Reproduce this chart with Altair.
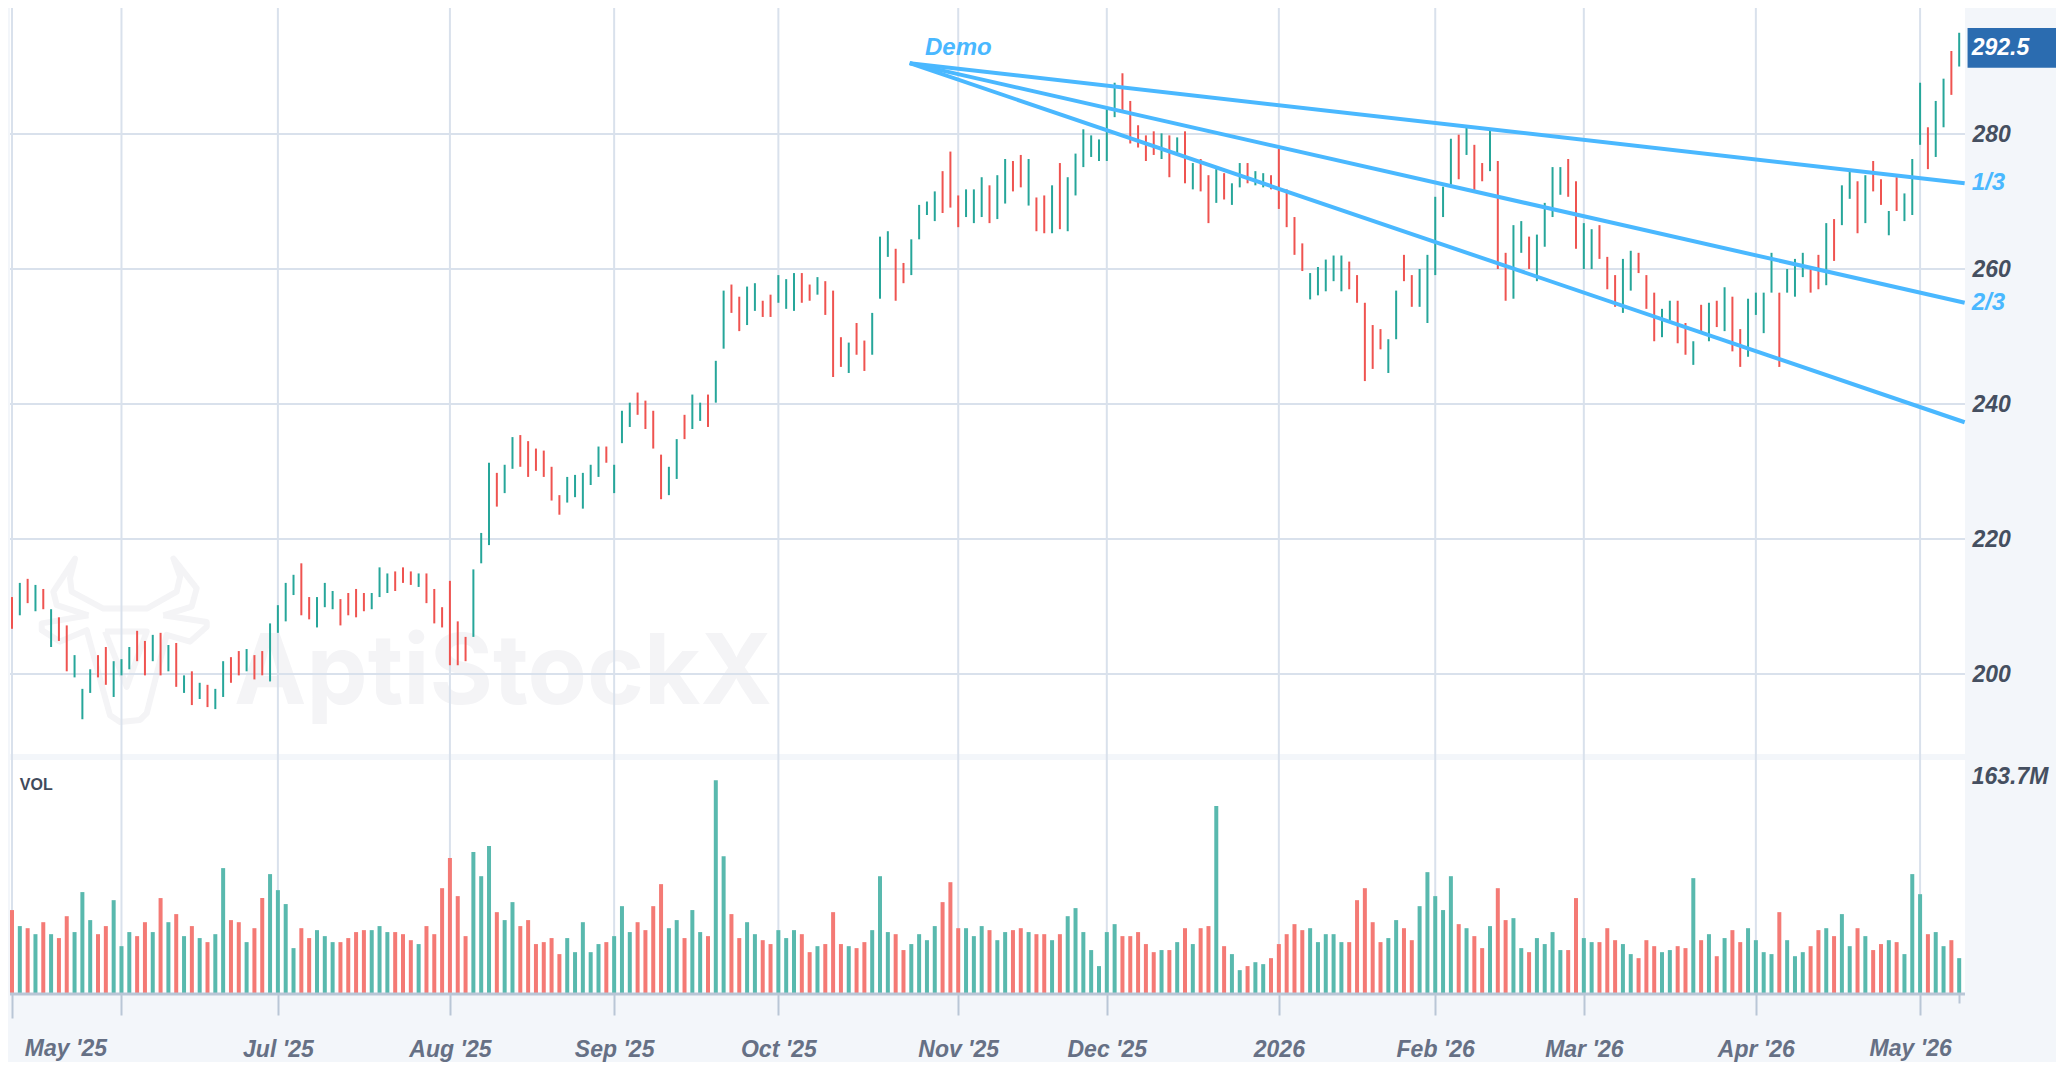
import json

import altair as alt
import pandas as pd

FONT = 'Liberation Sans'
TEAL, RED = '#26a69a', '#ef5350'
VOL_TEAL, VOL_RED = '#59b9ae', '#f47a75'
BLUE = '#4ab8ff'
GRID = '#d9e1ec'
STRIP = '#f3f6fa'

# one letter per session: t = up, r = down
bar_dir = ('rtrtrtrrtt' 'trrtttrrtr' 'trtrtrttrr' 'trrttttrrt' 'ttrrrrtttr'
           'rrtrrrrrrt' 'ttrttrrrrr' 'rtttttrttt' 'rrrrttrttr' 'ttrrttrrtt'
           'trrtrrrtrr' 'tttrrttttr' 'rrtttrttrr' 'trrtrttttt' 'ttrrrrrtrt'
           'rtrrtrttrt' 'trrrrrtttt' 'trrrrrttrr' 'tttttrtrrt' 'rrttrttttr'
           'rttrrrttrr' 'rttrrtrtrt' 'rrttttrttt' 'rrtrttrtrr' 'trtttrttrt')

highs = [
    211.4, 213.5, 214.1, 213.2, 212.6, 209.6, 208.4, 207.2, 202.8, 197.8,
    200.7, 202.8, 204.0, 201.9, 202.2, 204.0, 206.4, 204.9, 205.8, 206.1,
    204.3, 204.6, 199.8, 200.4, 198.7, 198.4, 197.8, 201.9, 202.5, 203.4,
    203.7, 202.8, 203.4, 207.5, 210.2, 213.5, 214.7, 216.4, 211.4, 211.4,
    213.5, 212.3, 211.1, 212.0, 212.6, 212.0, 212.0, 215.8, 214.9, 215.2,
    215.8, 215.2, 214.9, 214.9, 212.6, 209.9, 213.8, 207.8, 205.5, 215.5,
    220.9, 231.3, 229.8, 231.0, 235.1, 235.4, 234.5, 233.4, 233.1, 230.7,
    226.5, 229.2, 229.5, 229.8, 231.0, 233.7, 233.7, 231.0, 239.0, 240.2,
    241.7, 240.5, 239.0, 232.5, 230.7, 234.8, 238.4, 241.4, 240.2, 241.4,
    246.4, 256.8, 257.7, 255.9, 257.4, 257.9, 255.3, 256.2, 259.1, 258.5,
    259.4, 259.4, 257.7, 258.8, 258.2, 256.8, 249.9, 249.1, 252.0, 249.4,
    253.5, 264.8, 265.6, 263.0, 260.9, 264.4, 269.5, 270.0, 271.5, 274.5,
    277.4, 270.9, 271.8, 271.8, 273.6, 272.4, 273.9, 276.3, 276.0, 276.9,
    276.3, 270.6, 270.9, 272.4, 275.7, 273.6, 277.1, 280.7, 279.8, 279.2,
    283.7, 287.6, 289.0, 284.9, 281.3, 279.8, 280.4, 280.1, 279.8, 279.5,
    280.4, 275.7, 276.3, 273.9, 274.8, 274.2, 272.7, 275.7, 275.7, 274.5,
    274.2, 273.9, 277.8, 271.8, 267.7, 263.8, 259.4, 260.3, 261.4, 262.0,
    262.0, 261.1, 259.1, 255.0, 251.7, 251.1, 249.6, 256.8, 262.1, 259.1,
    260.0, 262.1, 270.7, 272.2, 279.3, 279.9, 281.0, 278.4, 275.7, 280.6,
    276.0, 262.4, 266.5, 267.1, 264.8, 265.1, 269.8, 275.1, 275.1, 276.3,
    273.0, 266.8, 265.9, 266.5, 261.8, 259.1, 261.5, 262.7, 262.4, 259.1,
    256.5, 254.1, 255.3, 255.3, 252.0, 249.3, 254.7, 255.0, 255.3, 257.3,
    255.9, 251.1, 255.6, 256.5, 256.5, 262.4, 256.5, 260.0, 261.5, 262.4,
    260.0, 262.1, 266.8, 267.4, 272.4, 274.5, 273.0, 273.9, 276.0, 273.3,
    268.6, 273.6, 271.2, 276.3, 287.6, 281.0, 284.9, 288.2, 292.3, 295.0,
]

lows = [
    206.7, 208.7, 210.5, 209.3, 209.6, 204.0, 204.9, 200.4, 199.5, 193.3,
    197.2, 199.5, 198.4, 196.6, 199.8, 200.7, 201.9, 199.8, 201.9, 199.8,
    200.4, 198.1, 197.2, 195.4, 196.3, 195.1, 194.8, 196.6, 198.7, 199.8,
    200.4, 199.2, 199.8, 198.9, 206.1, 207.8, 211.7, 208.7, 208.1, 206.9,
    209.9, 209.6, 207.2, 208.7, 208.4, 209.3, 209.6, 211.4, 212.0, 212.3,
    213.5, 213.2, 212.9, 210.5, 207.5, 206.9, 201.3, 201.3, 201.9, 205.5,
    216.4, 219.1, 224.8, 226.8, 230.4, 230.7, 229.2, 230.1, 229.2, 225.7,
    223.6, 225.4, 226.2, 224.5, 228.0, 229.2, 231.3, 226.8, 234.2, 236.6,
    238.4, 236.3, 233.4, 225.9, 226.5, 228.9, 234.8, 236.3, 237.5, 236.6,
    240.2, 248.2, 253.5, 250.8, 251.7, 253.8, 252.9, 252.9, 255.0, 254.1,
    253.8, 255.0, 255.3, 256.2, 253.2, 244.0, 245.5, 244.6, 247.3, 244.9,
    247.3, 255.6, 261.8, 255.3, 257.9, 259.1, 264.4, 268.0, 267.1, 268.3,
    269.1, 266.2, 267.7, 266.8, 267.7, 266.8, 267.4, 269.7, 271.5, 272.1,
    269.4, 265.6, 265.3, 265.3, 265.9, 265.6, 270.9, 275.1, 276.6, 276.0,
    276.0, 282.5, 283.5, 278.6, 278.0, 276.0, 276.9, 276.3, 273.6, 276.9,
    272.7, 271.8, 271.5, 266.8, 269.8, 270.3, 269.5, 272.1, 272.7, 272.4,
    272.1, 271.8, 268.9, 266.2, 262.1, 259.7, 255.5, 256.1, 256.7, 258.2,
    256.7, 257.0, 255.0, 243.4, 245.2, 248.1, 244.6, 249.6, 258.2, 254.4,
    254.4, 252.0, 259.1, 267.7, 272.5, 273.3, 276.9, 271.7, 273.0, 274.5,
    260.0, 255.3, 255.6, 262.4, 260.0, 258.2, 263.3, 267.7, 271.0, 270.7,
    263.0, 260.0, 260.0, 261.5, 257.0, 254.4, 253.5, 256.8, 259.4, 254.1,
    249.3, 249.9, 252.4, 249.0, 247.3, 245.8, 250.7, 249.3, 251.4, 250.8,
    247.8, 245.5, 247.0, 253.2, 250.5, 256.5, 245.5, 256.5, 255.9, 258.8,
    256.5, 257.0, 257.6, 261.2, 266.5, 270.4, 265.3, 266.8, 271.5, 269.5,
    265.0, 268.6, 267.1, 268.0, 278.4, 274.8, 276.6, 281.0, 285.8, 290.0,
]

volumes = [
    64.0, 51.7, 50.1, 45.5, 54.7, 45.5, 42.5, 59.3, 47.1, 77.8,
    56.3, 45.5, 51.7, 71.6, 36.3, 47.1, 44.0, 54.7, 47.1, 73.2,
    54.7, 60.9, 44.0, 51.7, 42.5, 39.4, 45.5, 96.2, 56.3, 54.7,
    39.4, 50.1, 73.2, 91.6, 79.3, 68.6, 34.8, 50.1, 42.5, 48.6,
    44.0, 39.4, 39.4, 42.5, 47.1, 48.6, 48.6, 51.7, 47.1, 47.1,
    45.5, 40.9, 37.9, 51.7, 45.5, 80.8, 103.9, 74.7, 44.0, 108.5,
    90.0, 113.1, 62.4, 56.3, 70.1, 51.7, 56.3, 37.9, 39.4, 42.5,
    30.2, 42.5, 31.7, 54.7, 31.7, 37.9, 39.4, 44.0, 67.0, 47.1,
    54.7, 48.6, 67.0, 83.9, 50.1, 56.3, 42.5, 64.0, 47.1, 44.0,
    163.7, 105.4, 60.9, 42.5, 54.7, 45.5, 40.9, 37.9, 48.6, 42.5,
    48.6, 45.5, 31.7, 36.3, 37.9, 62.4, 37.9, 36.3, 34.8, 39.4,
    48.6, 90.0, 47.1, 45.5, 33.3, 37.9, 45.5, 40.9, 51.7, 70.1,
    85.4, 50.1, 50.1, 44.0, 51.7, 48.6, 40.9, 47.1, 48.6, 50.1,
    47.1, 45.5, 45.5, 40.9, 45.5, 59.3, 65.5, 47.1, 33.3, 21.0,
    47.1, 53.2, 44.0, 44.0, 47.1, 37.9, 31.7, 33.3, 33.3, 39.4,
    50.1, 37.9, 50.1, 51.7, 143.8, 36.3, 30.2, 17.9, 21.0, 24.0,
    22.5, 27.1, 37.9, 45.5, 53.2, 48.6, 50.1, 39.4, 45.5, 45.5,
    39.4, 39.4, 71.6, 80.8, 54.7, 39.4, 42.5, 56.3, 50.1, 40.9,
    67.0, 93.1, 74.7, 64.0, 90.0, 53.2, 50.1, 44.0, 34.8, 51.7,
    80.8, 56.3, 57.8, 34.8, 31.7, 42.5, 37.9, 47.1, 33.3, 33.3,
    73.2, 42.5, 39.4, 39.4, 50.1, 40.9, 37.9, 30.2, 27.1, 40.9,
    36.3, 31.7, 33.3, 36.3, 34.8, 88.5, 40.9, 45.5, 28.6, 42.5,
    48.6, 39.4, 50.1, 40.9, 31.7, 30.2, 62.4, 40.9, 28.6, 31.7,
    36.3, 48.6, 50.1, 44.0, 60.9, 36.3, 50.1, 44.0, 33.3, 37.9,
    40.9, 39.4, 30.2, 91.6, 76.2, 45.5, 47.1, 36.3, 40.9, 27.1,
]

# month ticks sit on session numbers
tick_idx = [0, 14, 34, 56, 77, 98, 121, 140, 162, 182, 201, 223, 244, 249]
tick_names = ['', '', "Jul '25", "Aug '25", "Sep '25", "Oct '25", "Nov '25", "Dec '25",
              '2026', "Feb '26", "Mar '26", "Apr '26", '', '']
grid_idx = tick_idx[:-1]
price_ticks = [200, 220, 240, 260, 280, 300]
grid_prices = [200, 220, 240, 260, 280]

# the two May labels do not sit under their ticks
may_idx = [6.9, 242.8]
may_names = ["May '25", "May '26"]

# fan lines: apex, then the end of each ray
apex_idx, apex_price = 114.8, 290.5
ray_names = ['1/3', '2/3', '3/3']
ray_end_idx = [249.7, 249.7, 249.7]
ray_end_price = [272.7, 255.0, 237.3]

# bull logo behind the bars
logo_idx = [9.77, 5.72, 5.29, 8.06, 7.42, 7.63, 11.68, 17.23, 21.06, 21.49, 20.64, 23.62, 22.98, 19.36,
            9.77, 3.80, 3.80, 6.14, 9.55, 12.53, 13.82, 16.37, 17.23, 19.78, 22.77, 24.9, 24.9, 19.36,
            11.90, 17.23, 14.67, 11.90]
logo_price = [208.7, 210.2, 212.2, 217.1, 214.2, 212.2, 209.7, 209.7, 212.2, 214.4, 217.1, 212.7, 210.0, 208.7,
              208.7, 207.5, 206.5, 204.8, 206.5, 193.9, 192.9, 193.2, 194.2, 205.8, 204.8, 207.0, 207.7, 208.7,
              206.3, 206.3, 198.1, 206.3]
logo_part = ['a'] * 14 + ['b'] * 14 + ['c'] * 4

LEFT_EDGE, RIGHT_EDGE = -0.256, 249.74
LABEL_IDX = 250.6
CHART_W, CHART_H = 2048, 1054

x_scale = alt.Scale(domain=[-0.5115, 261.38], nice=False, zero=False, padding=0)
price_scale = alt.Scale(domain=[142.52, 298.67], nice=False, zero=False)
vol_scale = alt.Scale(domain=[-52.6, 756.3], nice=False, zero=False)
dir_color = alt.Scale(domain=['t', 'r'], range=[TEAL, RED])
vol_color = alt.Scale(domain=['t', 'r'], range=[VOL_TEAL, VOL_RED])


def X(field):
    return alt.X(field, type='quantitative', scale=x_scale, axis=None)


def Y(field):
    return alt.Y(field, type='quantitative', scale=price_scale, axis=None)


bars = pd.DataFrame({'i': range(len(highs)), 'high': highs, 'low': lows,
                     'vol': volumes, 'zero': 0, 'dir': list(bar_dir)})

panel = alt.Chart(pd.DataFrame({'a': [LEFT_EDGE], 'b': [RIGHT_EDGE], 'top': [305], 'bottom': [152.7]})).mark_rect(
    color='white').encode(x=X('a'), x2='b', y=Y('top'), y2='bottom')

watermark = alt.Chart(pd.DataFrame({'i': [28.4], 'p': [195.6], 't': ['AptiStockX']})).mark_text(
    font='Inter', fontSize=97, fontWeight='bold', align='left', baseline='alphabetic', color='#f4f4f6'
).encode(x=X('i'), y=Y('p'), text='t')

logo = alt.Chart(pd.DataFrame({'i': logo_idx, 'p': logo_price, 'part': logo_part,
                               'n': range(len(logo_idx))})).mark_line(
    color='#f4f4f6', strokeWidth=6, strokeJoin='round').encode(
    x=X('i'), y=Y('p'), detail='part', order='n')

band = alt.Chart(pd.DataFrame({'a': [LEFT_EDGE], 'b': [RIGHT_EDGE], 'top': [188.15], 'bottom': [187.26]})).mark_rect(
    color=STRIP).encode(x=X('a'), x2='b', y=Y('top'), y2='bottom')

grid_v = alt.Chart(pd.DataFrame({'i': grid_idx, 'top': 305, 'bottom': 152.7})).mark_rule(
    color=GRID, strokeWidth=2).encode(x=X('i'), y=Y('top'), y2='bottom')

grid_h = alt.Chart(pd.DataFrame({'p': grid_prices, 'a': LEFT_EDGE, 'b': RIGHT_EDGE})).mark_rule(
    color=GRID, strokeWidth=2).encode(y=Y('p'), x=X('a'), x2='b')

price_bars = alt.Chart(bars).mark_rule(strokeWidth=2).encode(
    x=X('i'), y=Y('high'), y2='low',
    color=alt.Color('dir:N', scale=dir_color, legend=None))

vol_bars = alt.Chart(bars).mark_bar(width=4).encode(
    x=X('i'),
    y=alt.Y('vol:Q', scale=vol_scale, axis=None), y2='zero',
    color=alt.Color('dir:N', scale=vol_color, legend=None))

base_line = alt.Chart(pd.DataFrame({'a': [LEFT_EDGE], 'b': [RIGHT_EDGE], 'p': [152.6]})).mark_rule(
    color='#b9c6d6', strokeWidth=3).encode(y=Y('p'), x=X('a'), x2='b')

ray_rows = []
for name, end_i, end_p in zip(ray_names, ray_end_idx, ray_end_price):
    ray_rows.append({'ray': name, 'i': apex_idx, 'p': apex_price})
    ray_rows.append({'ray': name, 'i': end_i, 'p': end_p})
rays = alt.Chart(pd.DataFrame(ray_rows)).mark_line(color=BLUE, strokeWidth=4).encode(
    x=X('i'), y=Y('p'), detail='ray')

blue_text = alt.Chart(pd.DataFrame({'i': [116.75, LABEL_IDX, LABEL_IDX], 'p': [292.8, 272.7, 255.0],
                                    't': ['Demo', '1/3', '2/3']})).mark_text(
    font=FONT, fontSize=24, fontWeight='bold', fontStyle='italic', align='left', color=BLUE
).encode(x=X('i'), y=Y('p'), text='t')

tag = alt.Chart(pd.DataFrame({'a': [250.07], 'b': [261.38], 'top': [295.7], 'bottom': [289.8]})).mark_rect(
    color='#2b6cb0').encode(x=X('a'), x2='b', y=Y('top'), y2='bottom')

tag_text = alt.Chart(pd.DataFrame({'i': [LABEL_IDX], 'p': [292.75], 't': ['292.5']})).mark_text(
    font=FONT, fontSize=23, fontWeight='bold', fontStyle='italic', align='left', color='white'
).encode(x=X('i'), y=Y('p'), text='t')

vol_max = alt.Chart(pd.DataFrame({'i': [LABEL_IDX], 'v': [165.8], 't': ['163.7M']})).mark_text(
    font=FONT, fontSize=23, fontWeight='bold', fontStyle='italic', align='left', color='#454f60'
).encode(x=X('i'), y=alt.Y('v:Q', scale=vol_scale, axis=None), text='t')

vol_label = alt.Chart(pd.DataFrame({'i': [1.0], 'p': [183.6], 't': ['VOL']})).mark_text(
    font=FONT, fontSize=16, fontWeight='bold', align='left', color='#3f4a5c'
).encode(x=X('i'), y=Y('p'), text='t')

may_labels = alt.Chart(pd.DataFrame({'i': may_idx, 'p': 144.5, 't': may_names})).mark_text(
    font=FONT, fontSize=23, fontWeight='bold', fontStyle='italic', color='#667085'
).encode(x=X('i'), y=Y('p'), text='t')

# real axes: month ticks at the foot of the volume panel, prices in the right strip
label_expr = f"{json.dumps(tick_names)}[indexof({json.dumps(tick_idx)}, datum.value)]"
axes = alt.Chart(pd.DataFrame({'i': tick_idx, 'p': 200})).mark_point(opacity=0).encode(
    x=alt.X('i:Q', scale=x_scale, axis=alt.Axis(
        orient='bottom', offset=-68, values=tick_idx, title=None, grid=False, domain=False,
        tickColor='#b9c6d6', tickWidth=2,
        tickSize={'condition': [{'test': 'datum.value == 0', 'value': 24},
                                {'test': 'datum.value == 249', 'value': 9}], 'value': 21},
        labelExpr=label_expr, labelOverlap=False,
        labelFlush=False, labelBaseline='middle', labelPadding=34, labelFont=FONT, labelFontSize=23,
        labelFontWeight='bold', labelFontStyle='italic', labelColor='#667085')),
    y=alt.Y('p:Q', scale=price_scale, axis=alt.Axis(
        orient='right', offset=-91, values=price_ticks, title=None, grid=False, domain=False, ticks=False,
        labelPadding=7, labelOverlap=False, labelFlush=False, labelFont=FONT, labelFontSize=23,
        labelFontWeight='bold', labelFontStyle='italic', labelColor='#454f60')))

chart = alt.layer(
    panel, watermark, logo, band, grid_v, grid_h, vol_bars, base_line, price_bars, rays,
    blue_text, tag, tag_text, vol_max, vol_label, may_labels, axes
).resolve_scale(y='independent', color='independent').resolve_axis(x='independent').properties(
    width=CHART_W, height=CHART_H, padding=0, background=STRIP,
    autosize=alt.AutoSizeParams(type='none')
).configure_view(stroke=None)

chart.save("out.html", embed_options={"renderer": "svg", "actions": False})
